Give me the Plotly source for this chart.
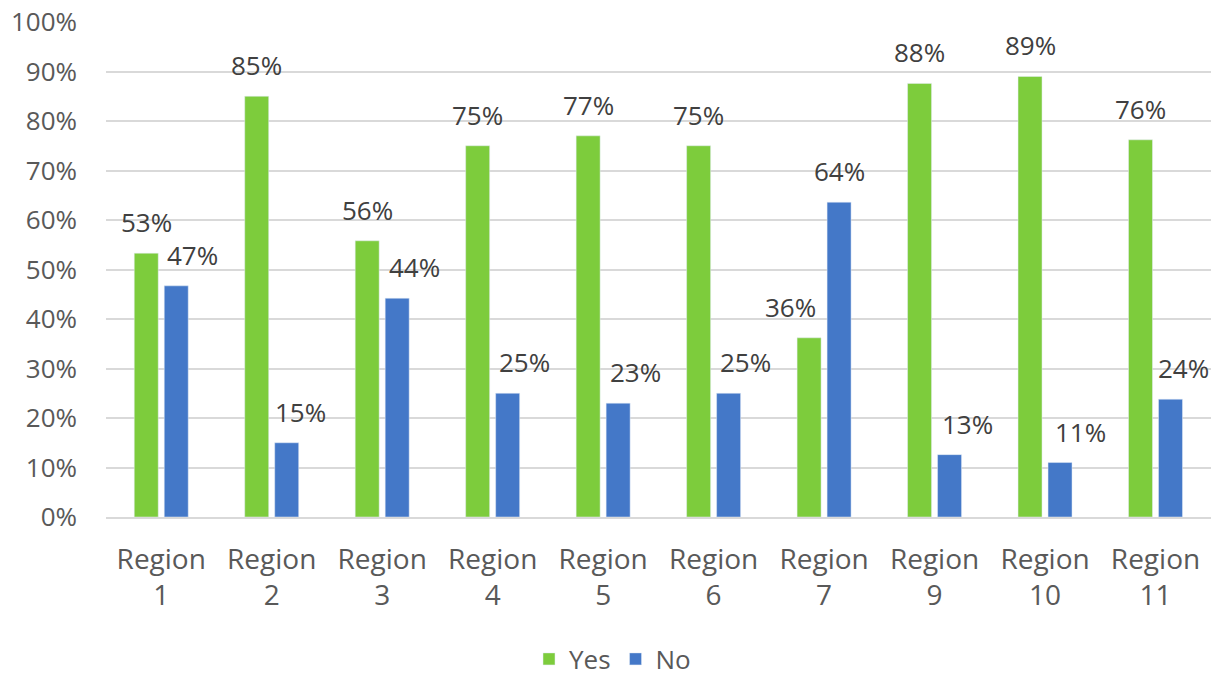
import plotly.graph_objects as go

region_numbers = ["1", "2", "3", "4", "5", "6", "7", "9", "10", "11"]
categories = [f"Region<br>{n}" for n in region_numbers]
yes_values = [0.533, 0.85, 0.558, 0.75, 0.77, 0.75, 0.362, 0.876, 0.89, 0.762]
no_values = [0.467, 0.15, 0.442, 0.25, 0.23, 0.25, 0.636, 0.126, 0.11, 0.238]
yes_color = "#7dcc3c"
no_color = "#4478c8"
font_family = "Open Sans, Liberation Sans, sans-serif"

# horizontal nudges of the value labels (pixels), as placed in the original
yes_label_nudge = [0, 0, 0, 0, 0, 0, -19, 0, 0, 0]
no_label_nudge = [16, 14, 17, 17, 17, 17, 0, 18, 20, 13]


def pct(v):
    return f"{int(v * 100 + 0.5)}%"


fig = go.Figure()
fig.add_trace(go.Bar(name="Yes", x=categories, y=yes_values, marker_color=yes_color))
fig.add_trace(go.Bar(name="No", x=categories, y=no_values, marker_color=no_color))

# value labels above bars
for series, base, nudges in ((yes_values, -15, yes_label_nudge), (no_values, 15, no_label_nudge)):
    for cat, v, dx in zip(categories, series, nudges):
        fig.add_annotation(x=cat, y=v, xref="x", yref="y", text=pct(v),
                           showarrow=False, xanchor="center", yanchor="bottom",
                           xshift=base + dx, yshift=11,
                           font=dict(size=26, color="#404040", family=font_family))

fig.update_layout(
    width=1225, height=677,
    margin=dict(l=106, r=14, t=22, b=160, autoexpand=False),
    paper_bgcolor="white", plot_bgcolor="white",
    barmode="group", bargap=0.457, bargroupgap=0.2,
    font=dict(family=font_family, size=26, color="#595959"),
    showlegend=True,
    legend=dict(orientation="h", xref="container", x=0.5, xanchor="center",
                yref="container", y=1 - 659 / 677, yanchor="middle",
                font=dict(size=26, color="#595959"), traceorder="normal"),
)
fig.update_yaxes(range=[0, 1], dtick=0.1, tickformat=".0%", showgrid=True,
                 gridcolor="#d9d9d9", gridwidth=2, zeroline=False,
                 showline=False, ticks="", automargin=False, ticklabelstandoff=28,
                 tickfont=dict(size=26, color="#595959"))
fig.update_xaxes(showline=True, linecolor="#d9d9d9", linewidth=2, ticks="",
                 automargin=False, ticklabelstandoff=16,
                 tickfont=dict(size=28, color="#595959"))

fig.write_html("out.html")
